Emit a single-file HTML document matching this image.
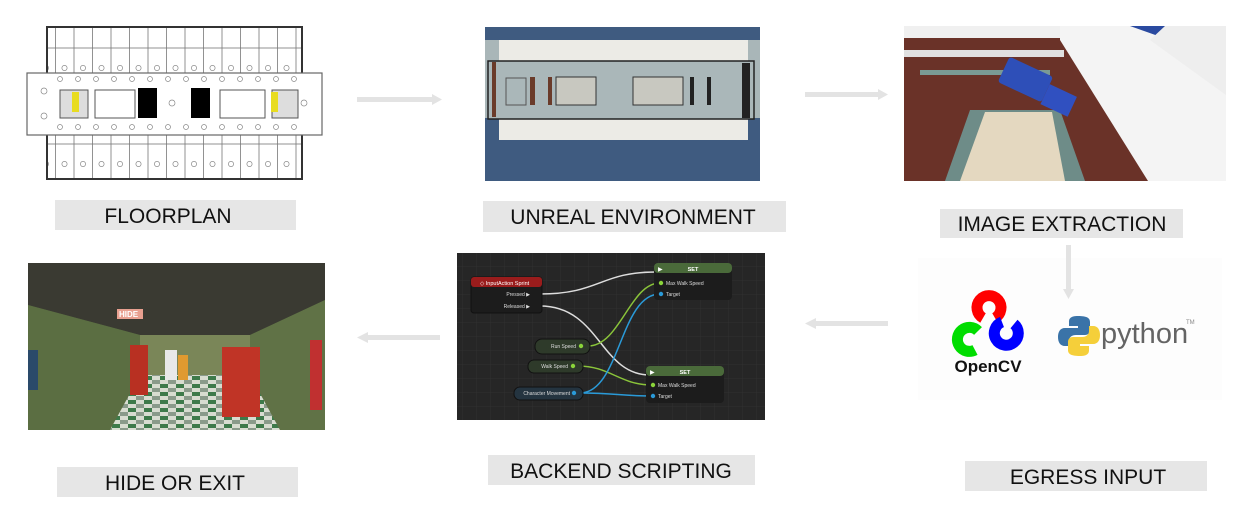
<!DOCTYPE html>
<html><head><meta charset="utf-8"><style>
body{margin:0;background:#fff;width:1243px;height:510px;overflow:hidden;font-family:"Liberation Sans",sans-serif}
</style></head><body>
<svg width="1243" height="510" viewBox="0 0 1243 510" xmlns="http://www.w3.org/2000/svg" font-family="Liberation Sans, sans-serif">
<defs>
<pattern id="grid" width="14" height="14" patternUnits="userSpaceOnUse"><path d="M14 0H0V14" fill="none" stroke="#303030" stroke-width="1"/></pattern>
<pattern id="tiles" width="16" height="8" patternUnits="userSpaceOnUse"><rect width="16" height="8" fill="#d8dcd0"/><rect width="8" height="4" fill="#3e7a4a"/><rect x="8" y="4" width="8" height="4" fill="#8a9a8a"/></pattern>
<pattern id="rooms" width="18.5" height="48" patternUnits="userSpaceOnUse"><rect width="18.5" height="48" fill="#fff" stroke="#777" stroke-width="0.8"/><circle cx="9" cy="20" r="2.6" fill="none" stroke="#888" stroke-width="0.7"/></pattern>
</defs>

<!-- Floorplan -->
<g>
<rect x="47" y="27" width="255" height="48" fill="url(#rooms)" stroke="#333" stroke-width="2"/>
<rect x="47" y="134" width="255" height="45" fill="url(#rooms)" stroke="#333" stroke-width="2"/>
<rect x="27" y="73" width="295" height="62" fill="#fff" stroke="#666" stroke-width="1.2"/>
<rect x="60" y="90" width="28" height="28" fill="#ddd" stroke="#555"/>
<rect x="72" y="92" width="7" height="20" fill="#e8dc20"/>
<rect x="272" y="90" width="26" height="28" fill="#ddd" stroke="#555"/>
<rect x="271" y="92" width="7" height="20" fill="#e8dc20"/>
<rect x="95" y="90" width="40" height="28" fill="#fff" stroke="#555"/>
<rect x="220" y="90" width="45" height="28" fill="#fff" stroke="#555"/>
<rect x="138" y="88" width="19" height="30" fill="#000"/>
<rect x="191" y="88" width="19" height="30" fill="#000"/>
<g fill="none" stroke="#888" stroke-width="0.7">
<circle cx="44" cy="91" r="3"/><circle cx="44" cy="116" r="3"/><circle cx="172" cy="103" r="3"/><circle cx="304" cy="103" r="3"/>
<circle cx="60" cy="79" r="2.5"/><circle cx="78" cy="79" r="2.5"/><circle cx="96" cy="79" r="2.5"/><circle cx="114" cy="79" r="2.5"/><circle cx="132" cy="79" r="2.5"/><circle cx="150" cy="79" r="2.5"/><circle cx="168" cy="79" r="2.5"/><circle cx="186" cy="79" r="2.5"/><circle cx="204" cy="79" r="2.5"/><circle cx="222" cy="79" r="2.5"/><circle cx="240" cy="79" r="2.5"/><circle cx="258" cy="79" r="2.5"/><circle cx="276" cy="79" r="2.5"/><circle cx="294" cy="79" r="2.5"/>
<circle cx="60" cy="127" r="2.5"/><circle cx="78" cy="127" r="2.5"/><circle cx="96" cy="127" r="2.5"/><circle cx="114" cy="127" r="2.5"/><circle cx="132" cy="127" r="2.5"/><circle cx="150" cy="127" r="2.5"/><circle cx="168" cy="127" r="2.5"/><circle cx="186" cy="127" r="2.5"/><circle cx="204" cy="127" r="2.5"/><circle cx="222" cy="127" r="2.5"/><circle cx="240" cy="127" r="2.5"/><circle cx="258" cy="127" r="2.5"/><circle cx="276" cy="127" r="2.5"/><circle cx="294" cy="127" r="2.5"/>
</g>
</g>

<!-- Unreal environment -->
<rect x="485" y="27" width="275" height="154" fill="#3f5b80"/>
<rect x="485" y="40" width="275" height="78" fill="#a9b6b8"/>
<rect x="499" y="40" width="249" height="100" fill="#ecebe6"/>
<rect x="488" y="61" width="266" height="58" fill="#aab7b9" stroke="#222" stroke-width="1.5"/>
<rect x="492" y="62" width="4" height="55" fill="#6a3b2a"/>
<rect x="506" y="78" width="20" height="27" fill="none" stroke="#555"/>
<rect x="530" y="77" width="5" height="28" fill="#6a3b2a"/>
<rect x="548" y="77" width="4" height="28" fill="#6a3b2a"/>
<rect x="556" y="77" width="40" height="28" fill="#c8c8c0" stroke="#333"/>
<rect x="633" y="77" width="50" height="28" fill="#c8c8c0" stroke="#333"/>
<rect x="690" y="77" width="4" height="28" fill="#222"/>
<rect x="707" y="77" width="4" height="28" fill="#222"/>
<rect x="742" y="63" width="8" height="55" fill="#222"/>

<!-- Image extraction -->
<rect x="904" y="26" width="322" height="155" fill="#6a3228"/>
<rect x="904" y="26" width="322" height="12" fill="#f0f0f0"/>
<polygon points="1060,26 1226,26 1226,181 1148,181 1060,40" fill="#f4f4f4"/>
<polygon points="1130,26 1226,26 1226,60" fill="#2a4aa0"/>
<polygon points="1165,26 1226,26 1226,95 1150,40" fill="#eeeeee"/>
<polygon points="970,110 1060,110 1085,181 945,181" fill="#6e8c88"/>
<polygon points="985,112 1052,112 1065,181 960,181" fill="#e4d8c0"/>
<rect x="904" y="50" width="160" height="7" fill="#e0e0e0"/>
<rect x="920" y="70" width="130" height="5" fill="#7a9a94"/>
<g transform="rotate(25 1035 85)"><rect x="1000" y="70" width="48" height="28" rx="3" fill="#2e4fb8"/><rect x="1048" y="78" width="30" height="22" fill="#3050c0"/></g>

<!-- OpenCV / python box -->
<rect x="918" y="258" width="304" height="142" fill="#fdfdfd"/>
<g fill="none" stroke-width="11">
<path d="M983 318 A12 12 0 1 1 995 318" stroke="#f00"/>
<path d="M978 331 A12 12 0 1 0 975 350" stroke="#0d0"/>
<path d="M1002 322 A12 12 0 1 0 1014 324" stroke="#00f"/>
</g>
<text x="988" y="372" font-size="17" font-weight="bold" text-anchor="middle" fill="#111">OpenCV</text>
<path d="M1078 316 c-8 0 -9 3 -9 6 v4 h9 v2 h-13 c-5 0 -7 4 -7 9 s2 9 7 9 h4 v-5 c0 -4 3 -6 7 -6 h9 c3 0 5 -2 5 -5 v-8 c0 -4 -3 -6 -12 -6z" fill="#3a73a8"/>
<path d="M1080 356 c8 0 9 -3 9 -6 v-4 h-9 v-2 h13 c5 0 7 -4 7 -9 s-2 -9 -7 -9 h-4 v5 c0 4 -3 6 -7 6 h-9 c-3 0 -5 2 -5 5 v8 c0 4 3 6 12 6z" fill="#f5cf3a"/>
<text x="1101" y="343" font-size="29" fill="#646464">python</text>
<text x="1186" y="324" font-size="6" fill="#888">TM</text>

<!-- Blueprint -->
<rect x="457" y="253" width="308" height="167" fill="#262626"/>
<rect x="457" y="253" width="308" height="167" fill="url(#grid)"/>
<g fill="none" stroke-width="1.5">
<path d="M540 294 C600 294 600 272 656 272" stroke="#ddd"/>
<path d="M540 306 C600 306 600 375 650 375" stroke="#ddd"/>
<path d="M588 346 C620 346 630 283 660 283" stroke="#8ac43a"/>
<path d="M578 366 C610 366 620 385 652 385" stroke="#8ac43a"/>
<path d="M580 393 C620 393 620 294 660 294" stroke="#2a9ad8"/>
<path d="M580 393 C615 393 620 396 652 396" stroke="#2a9ad8"/>
</g>
<rect x="471" y="277" width="71" height="36" rx="3" fill="#1c1c1c" stroke="#111"/>
<rect x="471" y="277" width="71" height="10" rx="3" fill="#9a1c1c"/>
<text x="480" y="285" font-size="5.5" fill="#fff">◇ InputAction Sprint</text>
<text x="530" y="296" font-size="5" fill="#ddd" text-anchor="end">Pressed ▶</text>
<text x="530" y="308" font-size="5" fill="#ddd" text-anchor="end">Released ▶</text>
<rect x="654" y="263" width="78" height="37" rx="4" fill="#1c1c1c"/>
<rect x="654" y="263" width="78" height="10" rx="4" fill="#4a6a3a"/>
<text x="693" y="271" font-size="5.5" fill="#fff" text-anchor="middle" font-weight="bold">SET</text>
<text x="658" y="271" font-size="6" fill="#fff">▶</text>
<circle cx="661" cy="283" r="2.2" fill="#8ad43a"/><text x="666" y="285" font-size="5" fill="#ddd">Max Walk Speed</text>
<circle cx="661" cy="294" r="2.2" fill="#2a9ad8"/><text x="666" y="296" font-size="5" fill="#ddd">Target</text>
<rect x="646" y="366" width="78" height="37" rx="4" fill="#1c1c1c"/>
<rect x="646" y="366" width="78" height="10" rx="4" fill="#4a6a3a"/>
<text x="685" y="374" font-size="5.5" fill="#fff" text-anchor="middle" font-weight="bold">SET</text>
<text x="650" y="374" font-size="6" fill="#fff">▶</text>
<circle cx="653" cy="385" r="2.2" fill="#8ad43a"/><text x="658" y="387" font-size="5" fill="#ddd">Max Walk Speed</text>
<circle cx="653" cy="396" r="2.2" fill="#2a9ad8"/><text x="658" y="398" font-size="5" fill="#ddd">Target</text>
<rect x="535" y="339" width="55" height="15" rx="7" fill="#2e3a2a" stroke="#111"/>
<text x="576" y="348" font-size="5" fill="#ddd" text-anchor="end">Run Speed</text><circle cx="581" cy="346" r="2.2" fill="#8ad43a"/>
<rect x="528" y="360" width="55" height="13" rx="6" fill="#2e3a2a" stroke="#111"/>
<text x="568" y="368" font-size="5" fill="#ddd" text-anchor="end">Walk Speed</text><circle cx="573" cy="366" r="2.2" fill="#8ad43a"/>
<rect x="514" y="387" width="69" height="13" rx="6" fill="#243440" stroke="#111"/>
<text x="570" y="395" font-size="5" fill="#ddd" text-anchor="end">Character Movement</text><circle cx="574" cy="393" r="2.2" fill="#2a9ad8"/>

<!-- Hide photo -->
<rect x="28" y="263" width="297" height="167" fill="#4a5a3a"/>
<polygon points="28,263 325,263 325,300 250,335 140,335 28,305" fill="#3a3a32"/>
<polygon points="28,305 140,335 140,430 28,430" fill="#5b6e42"/>
<polygon points="325,300 250,335 250,430 325,430" fill="#607246"/>
<rect x="140" y="335" width="110" height="40" fill="#7a8658"/>
<polygon points="140,375 250,375 280,430 110,430" fill="url(#tiles)"/>
<rect x="130" y="345" width="18" height="50" fill="#b83022"/>
<rect x="222" y="347" width="38" height="70" fill="#c03426"/>
<rect x="117" y="309" width="26" height="10" fill="#e8a090"/>
<text x="119" y="317" font-size="8" font-weight="bold" fill="#fff">HIDE</text>
<rect x="165" y="350" width="12" height="30" fill="#e8e8e8"/>
<rect x="178" y="355" width="10" height="25" fill="#e09a30"/>
<rect x="310" y="340" width="12" height="70" fill="#c03030"/>
<rect x="28" y="350" width="10" height="40" fill="#2a4a6a"/>

<!-- Arrows -->
<g fill="#e3e3e3">
<rect x="357" y="97" width="76" height="5"/><polygon points="432,94 442,99.5 432,105"/>
<rect x="805" y="92" width="74" height="5"/><polygon points="878,89 888,94.5 878,100"/>
<rect x="1066" y="245" width="5" height="45"/><polygon points="1063,289 1068.5,299 1074,289"/>
<rect x="815" y="321" width="73" height="5"/><polygon points="816,318 805,323.5 816,329"/>
<rect x="367" y="335" width="73" height="5"/><polygon points="368,332 357,337.5 368,343"/>
</g>

<!-- Labels -->
<g fill="#e6e6e6">
<rect x="55" y="200" width="241" height="30"/>
<rect x="483" y="201" width="303" height="31"/>
<rect x="940" y="209" width="243" height="29"/>
<rect x="57" y="467" width="241" height="30"/>
<rect x="488" y="455" width="267" height="30"/>
<rect x="965" y="461" width="242" height="30"/>
</g>
<g font-size="21" fill="#111" text-anchor="middle">
<text x="168" y="223">FLOORPLAN</text>
<text x="633" y="224">UNREAL ENVIRONMENT</text>
<text x="1062" y="231">IMAGE EXTRACTION</text>
<text x="175" y="490">HIDE OR EXIT</text>
<text x="621" y="478">BACKEND SCRIPTING</text>
<text x="1088" y="484">EGRESS INPUT</text>
</g>
</svg>
</body></html>
